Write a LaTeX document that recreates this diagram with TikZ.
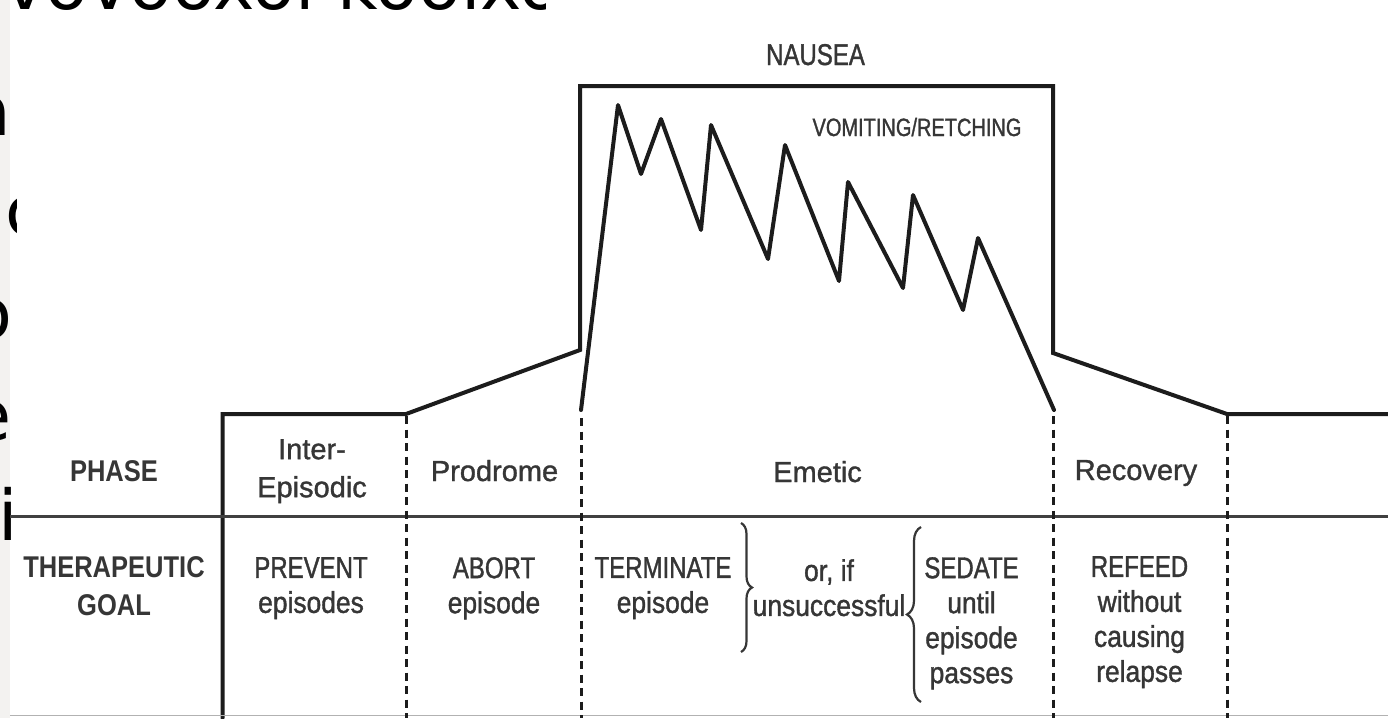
\documentclass[tikz,border=0pt]{standalone}
\usepackage{fontspec}
\setmainfont[FakeBold=1.2]{Liberation Sans}
\newfontfamily\capf[FakeStretch=0.80,FakeBold=1.2]{Liberation Sans}
\newfontfamily\lowf[FakeStretch=0.88,FakeBold=1.2]{Liberation Sans}
\newfontfamily\hdf[FakeStretch=0.85]{Liberation Sans}
\newfontfamily\fragf{DejaVu Sans}
\usetikzlibrary{decorations.pathreplacing}
\definecolor{ink}{HTML}{1C1C1C}
\definecolor{txt}{HTML}{363636}
\definecolor{rule}{HTML}{404040}
\definecolor{strip}{HTML}{F3F2F0}
\tikzset{
  curve/.style={line width=4pt, draw=ink, line join=round, line cap=round},
  divider/.style={line width=3pt, draw=rule},
  phaseline/.style={line width=3pt, draw=ink, dash pattern=on 8pt off 5.5pt},
  phaselbl/.style={inner sep=0pt, text=txt, font=\fontsize{29}{38}\selectfont, align=center},
  goallbl/.style={inner sep=0pt, text=txt, font=\capf\fontsize{30}{35}\selectfont, align=center, anchor=north},
  headlbl/.style={inner sep=0pt, text=txt, font=\hdf\bfseries\fontsize{30}{38}\selectfont, align=center},
  bracestyle/.style={line width=2.2pt, draw=txt},
  frag/.style={inner sep=0pt, text=black, font=\fragf\fontsize{70}{70}\selectfont}
}
\begin{document}
\begin{tikzpicture}[x=1pt,y=-1pt]
\useasboundingbox (0,0) rectangle (1388,718);
\fill[white] (0,0) rectangle (1388,718);
\fill[strip] (0,0) rectangle (10,718);
% fragments of overlapping text
\begin{scope}
\clip (0,0) rectangle (545,12);
\node[frag, anchor=base west] (toprow) at (4,9) {vovooxoi kooixoooi};
\end{scope}
\begin{scope}
\clip (0,20) rectangle (16,718);
\node[frag, anchor=base east] (fa) at (12,135) {a};
\node[frag, anchor=base west] (fc) at (5,235) {c};
\node[frag, anchor=base east] (fo) at (13,338) {o};
\node[frag, anchor=base east] (fe) at (12,440) {e};
\node[frag, anchor=base] (fi) at (8,540) {i};
\node[frag, anchor=base east] (fl) at (4,640) {l};
\end{scope}
% coordinates
\coordinate (s0) at (222.5,718);
\coordinate (s1) at (222.5,414);
\coordinate (s2) at (406,414);
\coordinate (b0) at (580,350);
\coordinate (b1) at (580,86);
\coordinate (b2) at (1053,86);
\coordinate (b3) at (1053,353);
\coordinate (r1) at (1227,414);
\coordinate (r2) at (1388,414);
% baseline shape
\draw[curve, line join=miter] (s0) -- (s1) -- (s2) -- (b0) -- (b1) -- (b2) -- (b3) -- (r1) -- (r2);
% vomiting curve
\draw[curve] (581,410) -- (618,105) -- (641,174) -- (661,119) -- (701,230) -- (711,125)
  -- (768,259) -- (785,145) -- (839,281) -- (848,182) -- (903,288) -- (913,195)
  -- (963,310) -- (978,238) -- (1054,410);
% table rules
\coordinate (d0) at (10,516.5);
\coordinate (d1) at (1388,516.5);
\draw[divider] (d0) -- (d1);
\draw[line width=1.6pt, draw=gray!60] (10,715.5) -- (1388,715.5);
% dashed phase boundaries
\coordinate (p1t) at (406,416);   \coordinate (p1b) at (406,718);
\coordinate (p2t) at (581,418);   \coordinate (p2b) at (581,718);
\coordinate (p3t) at (1053,416);  \coordinate (p3b) at (1053,718);
\coordinate (p4t) at (1227,416);  \coordinate (p4b) at (1227,718);
\draw[phaseline] (p1t) -- (p1b);
\draw[phaseline] (p2t) -- (p2b);
\draw[phaseline] (p3t) -- (p3b);
\draw[phaseline] (p4t) -- (p4b);
% top labels
\node[inner sep=0pt, text=txt, font=\capf\fontsize{30}{36}\selectfont, anchor=base] (nausea) at (815.5,65) {NAUSEA};
\node[inner sep=0pt, text=txt, font=\capf\fontsize{25}{30}\selectfont, anchor=base] (vomit) at (917,136) {VOMITING/RETCHING};
% header column
\node[headlbl, anchor=base] (phase) at (114,481) {PHASE};
\node[headlbl, anchor=north] (goal) at (114,556) {THERAPEUTIC\\GOAL};
% phase labels
\node[phaselbl, anchor=north] (inter) at (312,439) {Inter-\\Episodic};
\node[phaselbl, anchor=base] (prod) at (494.5,481) {Prodrome};
\node[phaselbl, anchor=base] (emet) at (817.5,482) {Emetic};
\node[phaselbl, anchor=base] (recov) at (1136,480) {Recovery};
% goal labels
\node[goallbl] (prevent) at (311,557) {PREVENT\\{\lowf episodes}};
\node[goallbl] (abort) at (494,557) {ABORT\\{\lowf episode}};
\node[goallbl] (term) at (663,557) {TERMINATE\\{\lowf episode}};
\node[goallbl, font=\lowf\fontsize{30}{35}\selectfont] (orif) at (829,559) {or, if\\unsuccessful};
\node[goallbl] (sedate) at (971.5,557) {SEDATE\\{\lowf until}\\{\lowf episode}\\{\lowf passes}};
\node[goallbl] (refeed) at (1139.5,556) {REFEED\\{\lowf without}\\{\lowf causing}\\{\lowf relapse}};
% braces
\coordinate (rb0) at (741,523);
\coordinate (rb1) at (741,652);
\coordinate (lb0) at (921,702);
\coordinate (lb1) at (921,527);
\draw[bracestyle, decorate, decoration={brace, amplitude=11pt}] (rb0) -- (rb1);
\draw[bracestyle, decorate, decoration={brace, amplitude=14pt}] (lb0) -- (lb1);
\end{tikzpicture}
\end{document}
